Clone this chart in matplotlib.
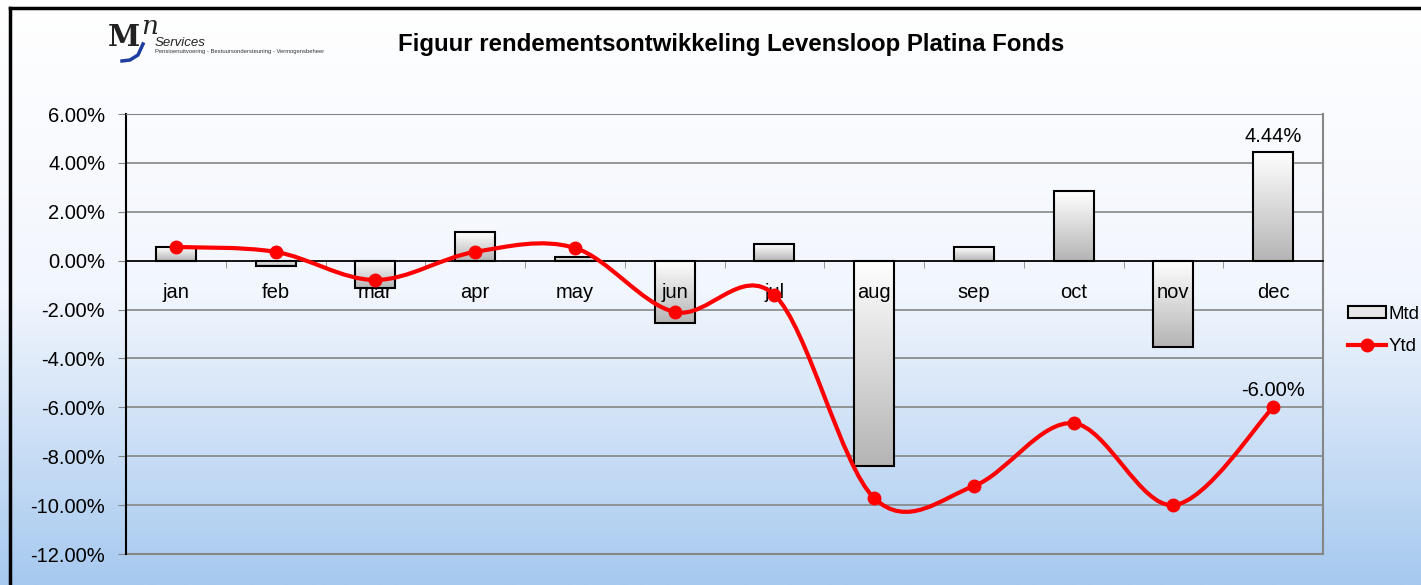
import numpy as np
import matplotlib
matplotlib.use("Agg")
import matplotlib.pyplot as plt
from matplotlib.path import Path
from matplotlib.patches import PathPatch, Rectangle
from matplotlib.lines import Line2D
from matplotlib.colors import LinearSegmentedColormap

plt.rcParams['font.family'] = ['Liberation Sans', 'DejaVu Sans']

# data (percent)
months = ['jan', 'feb', 'mar', 'apr', 'may', 'jun', 'jul', 'aug', 'sep', 'oct', 'nov', 'dec']
mtd = [0.56, -0.22, -1.12, 1.17, 0.15, -2.55, 0.68, -8.40, 0.56, 2.85, -3.53, 4.44]
ytd = [0.56, 0.36, -0.79, 0.36, 0.52, -2.10, -1.40, -9.71, -9.22, -6.65, -10.00, -6.00]
title = 'Figuur rendementsontwikkeling Levensloop Platina Fonds'

fig = plt.figure(figsize=(14.21, 5.85), dpi=100)

# background gradient for the whole chart area
bg = fig.add_axes([0, 0, 1, 1], zorder=-10)
bg_cmap = LinearSegmentedColormap.from_list('bg', ['#ffffff', '#f2f6fd', '#a6c9ef'], N=256)
grad = np.linspace(0, 1, 256).reshape(-1, 1)
bg.imshow(grad, cmap=bg_cmap, aspect='auto', extent=[0, 1, 0, 1], origin='upper')
bg.set_xlim(0, 1)
bg.set_ylim(0, 1)
bg.axis('off')

# outer frame (left and top edges visible)
fig.add_artist(Line2D([9.5 / 1421, 9.5 / 1421], [0, 1 - 7.5 / 585], color='black', lw=2.5))
fig.add_artist(Line2D([9.5 / 1421, 1], [1 - 7.5 / 585, 1 - 7.5 / 585], color='black', lw=2.5))

ax = fig.add_axes([126 / 1421, 1 - 554 / 585, (1323 - 126) / 1421, (554 - 114) / 585])
ax.set_facecolor('none')

x = np.arange(len(months))
bar_cmap = LinearSegmentedColormap.from_list('bar', ['#ffffff', '#b4b4b4'])
bars = ax.bar(x, mtd, width=0.4, facecolor='none', edgecolor='black', linewidth=1.5, zorder=3)
for b in bars:
    x0 = b.get_x()
    x1 = x0 + b.get_width()
    y0 = min(b.get_y(), b.get_y() + b.get_height())
    y1 = max(b.get_y(), b.get_y() + b.get_height())
    im = ax.imshow(grad, cmap=bar_cmap, aspect='auto', extent=[x0, x1, y0, y1],
                   origin='upper', zorder=2)
    im.set_clip_path(b)

# category labels drawn above the bars, just below the zero line
for xi, m in zip(x, months):
    ax.text(xi, -1.32, m, ha='center', va='center', fontsize=14.5, zorder=4.5)

# smoothed Ytd line (Catmull-Rom style bezier, like Excel smoothing)
pts = np.column_stack([x, ytd]).astype(float)
ext = np.vstack([pts[0], pts, pts[-1]])
verts = [tuple(pts[0])]
codes = [Path.MOVETO]
for i in range(len(pts) - 1):
    p0, p1, p2, p3 = ext[i], ext[i + 1], ext[i + 2], ext[i + 3]
    c1 = p1 + (p2 - p0) / 6
    c2 = p2 - (p3 - p1) / 6
    verts += [tuple(c1), tuple(c2), tuple(p2)]
    codes += [Path.CURVE4] * 3
ax.add_patch(PathPatch(Path(verts, codes), facecolor='none', edgecolor='#ff0000', lw=3, zorder=5))
ax.plot(x, ytd, linestyle='none', marker='o', markersize=9, color='#ff0000', zorder=6)

# data labels
ax.text(x[-1], mtd[-1] + 0.25, '%.2f%%' % mtd[-1], ha='center', va='bottom', fontsize=14.5)
ax.text(x[-1], ytd[-1] + 0.3, '%.2f%%' % ytd[-1], ha='center', va='bottom', fontsize=14.5)

ax.set_xlim(-0.5, len(months) - 0.5)
ax.set_ylim(-12, 6)
ax.set_yticks(np.arange(-12, 6.1, 2))
ax.set_yticklabels(['%.2f%%' % v for v in np.arange(-12, 6.1, 2)], fontsize=14.5)
ax.yaxis.grid(True, color='#868686', lw=1.2, zorder=0)
ax.set_axisbelow(True)
ax.tick_params(axis='y', length=6, color='#868686', pad=9)

ax.spines['left'].set_color('black')
ax.spines['left'].set_linewidth(1.5)
ax.spines['right'].set_color('#868686')
ax.spines['right'].set_linewidth(1.5)
ax.spines['top'].set_color('#868686')
ax.spines['bottom'].set_position(('data', 0))
ax.spines['bottom'].set_color('black')
ax.spines['bottom'].set_linewidth(1.2)
ax.spines['bottom'].set_zorder(3.5)
ax.add_patch(Rectangle((0, 0), 1, 0.0001, transform=ax.transAxes, facecolor='none',
                       edgecolor='#868686', lw=1.5, clip_on=False))

ax.set_xticks(x)
ax.set_xticklabels([])
ax.tick_params(axis='x', which='major', length=0)
ax.set_xticks(np.arange(0.5, len(months) - 0.5, 1), minor=True)
ax.tick_params(axis='x', which='minor', length=5, color='#868686', direction='out')

# title
fig.text(731 / 1421, 1 - 44 / 585, title, ha='center', va='center', fontsize=17.3, fontweight='bold')

# logo
fig.text(108 / 1421, 1 - 38 / 585, 'M', ha='left', va='center', fontsize=21, fontweight='bold',
         family='DejaVu Serif', color='#222222')
fig.text(141 / 1421, 1 - 26 / 585, 'n', ha='left', va='center', fontsize=19, style='italic',
         family='DejaVu Serif', color='#222222')
fig.text(155 / 1421, 1 - 43 / 585, 'Services', ha='left', va='center', fontsize=9.5, style='italic',
         color='#222222')
fig.text(155 / 1421, 1 - 52 / 585, 'Pensioenuitvoering - Bestuursondersteuning - Vermogensbeheer',
         ha='left', va='center', fontsize=4.2, color='#333333')
fig.add_artist(Line2D([122 / 1421, 130 / 1421, 138 / 1421, 143 / 1421],
                      [1 - 61 / 585, 1 - 60 / 585, 1 - 55 / 585, 1 - 44 / 585],
                      color='#1f3fa0', lw=2.5))

# legend
h_bar = Rectangle((0, 0), 1, 1, facecolor='#e6e6e6', edgecolor='black', lw=1.5)
h_line = Line2D([], [], color='#ff0000', lw=3, marker='o', markersize=9)
fig.legend([h_bar, h_line], ['Mtd', 'Ytd'], loc='upper left',
           bbox_to_anchor=(1348 / 1421, 1 - 306 / 585), frameon=False, fontsize=13.5,
           handlelength=2.0, handleheight=0.6, handletextpad=0.15, labelspacing=0.8,
           borderaxespad=0, borderpad=0)

fig.savefig('out.png', dpi=100)
